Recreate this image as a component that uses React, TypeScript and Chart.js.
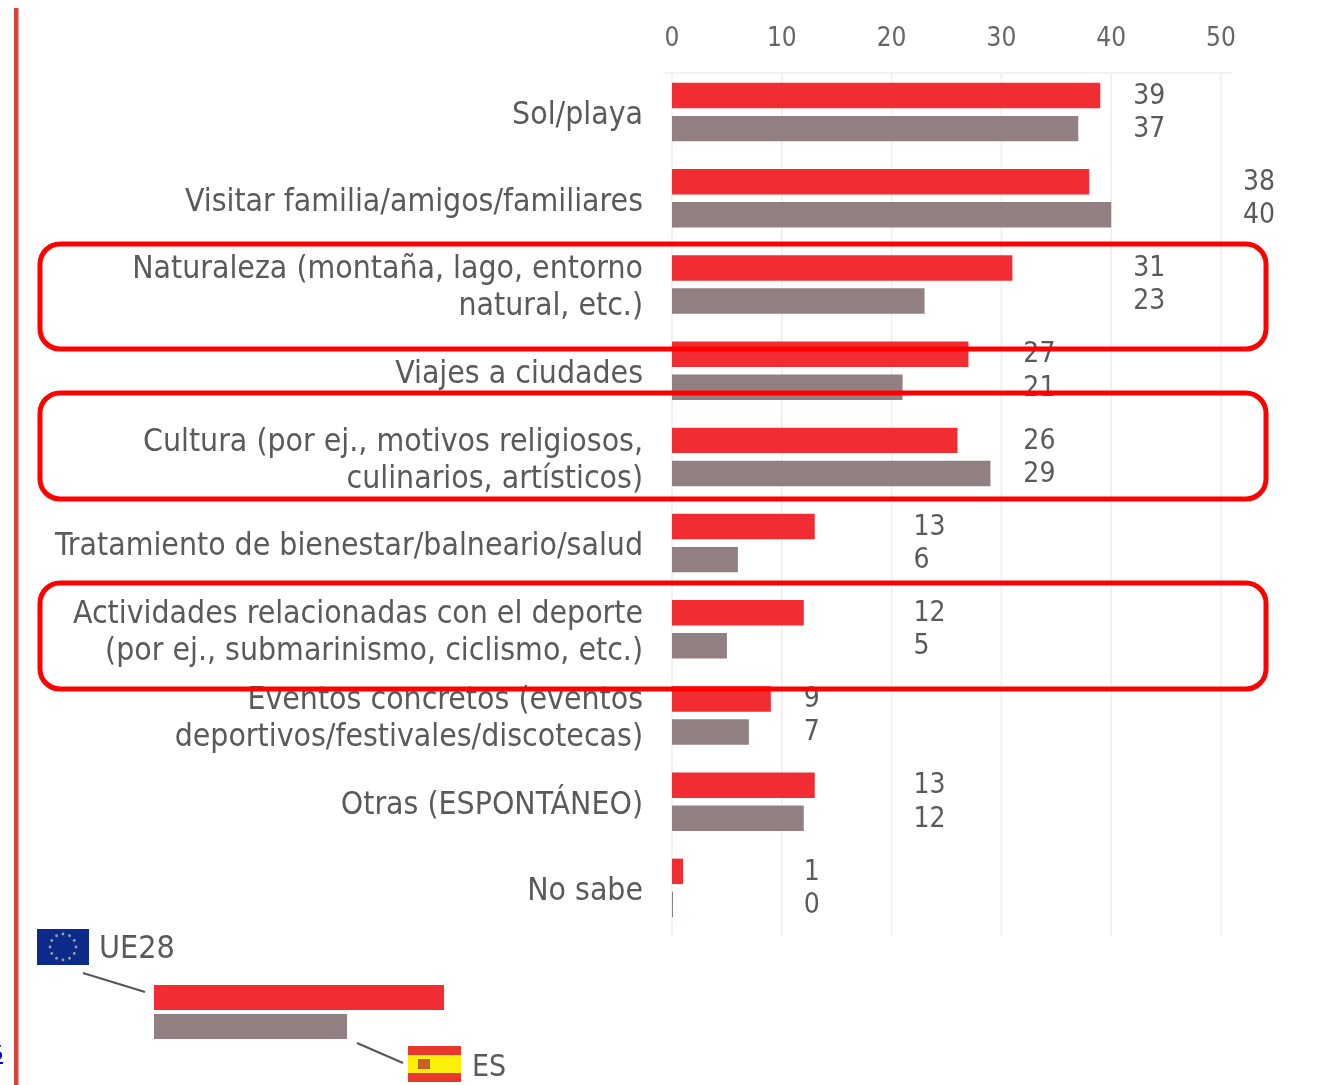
import React, { useEffect, useRef } from "react";
import { Chart, registerables } from "chart.js";

Chart.register(...registerables);

const categories: (string | string[])[] = [
  "Sol/playa",
  "Visitar familia/amigos/familiares",
  ["Naturaleza (montaña, lago, entorno", "natural, etc.)"],
  "Viajes a ciudades",
  ["Cultura (por ej., motivos religiosos,", "culinarios, artísticos)"],
  "Tratamiento de bienestar/balneario/salud",
  ["Actividades relacionadas con el deporte", "(por ej., submarinismo, ciclismo, etc.)"],
  ["Eventos concretos (eventos", "deportivos/festivales/discotecas)"],
  "Otras (ESPONTÁNEO)",
  "No sabe",
];
const ue28 = [39, 38, 31, 27, 26, 13, 12, 9, 13, 1];
const es = [37, 40, 23, 21, 29, 6, 5, 7, 12, 0];
const xTicks = [0, 10, 20, 30, 40, 50];

const FONT = '"DejaVu Sans Condensed", "DejaVu Sans", sans-serif';
const TEXT = "#5a5a5a";
const RED = "#f22c33";
const GRAY = "#917f81";

function roundRect(c: CanvasRenderingContext2D, x: number, y: number, w: number, h: number, r: number) {
  c.beginPath();
  c.roundRect(x, y, w, h, r);
  c.stroke();
}

const gridPlugin = {
  id: "customGrid",
  beforeDatasetsDraw(chart: any) {
    const c = chart.ctx as CanvasRenderingContext2D;
    const x = chart.scales.x;
    c.save();
    c.strokeStyle = "#eeeeee";
    c.lineWidth = 1.5;
    xTicks.forEach((t) => {
      const px = x.getPixelForValue(t);
      c.beginPath();
      c.moveTo(px, 73);
      c.lineTo(px, 936);
      c.stroke();
    });
    c.beginPath();
    c.moveTo(663, 73);
    c.lineTo(1232, 73);
    c.stroke();
    c.restore();
  },
};

const overlayPlugin = {
  id: "overlay",
  afterDatasetsDraw(chart: any) {
    const c = chart.ctx as CanvasRenderingContext2D;
    const x = chart.scales.x;
    c.save();
    // value labels
    c.font = `28px ${FONT}`;
    c.fillStyle = TEXT;
    c.textAlign = "left";
    c.textBaseline = "middle";
    [ue28, es].forEach((vals, d) => {
      const meta = chart.getDatasetMeta(d);
      vals.forEach((v, i) => {
        const slot = (Math.floor(Math.max(ue28[i], es[i]) / 10) + 1) * 10 + 2;
        c.fillText(String(v), x.getPixelForValue(slot), meta.data[i].y + 1);
      });
    });

    // left rule
    c.fillStyle = "#d9423c";
    c.fillRect(14, 8, 4.5, 1077);

    // clipped link fragment
    c.fillStyle = "#0000ee";
    c.font = "24px 'Liberation Serif', serif";
    c.textBaseline = "alphabetic";
    c.fillText("5", -9, 1060);
    c.fillRect(0, 1062, 3, 2);

    // highlight boxes
    c.strokeStyle = "#ff0000";
    c.lineWidth = 5;
    roundRect(c, 40, 244, 1226, 105, 20);
    roundRect(c, 40, 393, 1226, 106, 20);
    roundRect(c, 40, 583, 1226, 106, 20);

    // legend: EU flag
    c.fillStyle = "#0c2a8a";
    c.fillRect(37, 929, 52, 36);
    c.fillStyle = "#9aa0a8";
    for (let k = 0; k < 12; k++) {
      const a = (k * Math.PI) / 6;
      c.beginPath();
      c.arc(63 + 13 * Math.cos(a), 947 + 13 * Math.sin(a), 1.4, 0, Math.PI * 2);
      c.fill();
    }
    c.fillStyle = TEXT;
    c.font = `32px ${FONT}`;
    c.textAlign = "left";
    c.textBaseline = "middle";
    c.fillText("UE28", 99, 950);
    c.font = `30px ${FONT}`;
    c.fillText("ES", 472, 1068);

    c.strokeStyle = "#555555";
    c.lineWidth = 2;
    c.beginPath();
    c.moveTo(83, 973);
    c.lineTo(145, 992);
    c.moveTo(357, 1043);
    c.lineTo(403, 1063);
    c.stroke();

    c.fillStyle = RED;
    c.fillRect(154, 985, 290, 25);
    c.fillStyle = GRAY;
    c.fillRect(154, 1014, 193, 25);

    // legend: ES flag
    c.fillStyle = "#e8382b";
    c.fillRect(408, 1046, 53, 36);
    c.fillStyle = "#fbf00a";
    c.fillRect(408, 1055, 53, 18);
    c.fillStyle = "#c8602a";
    c.fillRect(418, 1059, 12, 10);
    c.restore();
  },
};

export default function App() {
  const ref = useRef<HTMLCanvasElement>(null);
  useEffect(() => {
    const chart = new Chart(ref.current!, {
      type: "bar",
      data: {
        labels: categories as any,
        datasets: [
          { label: "UE28", data: ue28, backgroundColor: RED, categoryPercentage: 0.767, barPercentage: 0.77 },
          { label: "ES", data: es, backgroundColor: GRAY, categoryPercentage: 0.767, barPercentage: 0.77, minBarLength: 1 },
        ],
      },
      options: {
        indexAxis: "y",
        animation: false,
        responsive: false,
        layout: { padding: { left: 0, top: 0, right: 97, bottom: 154 } },
        plugins: { legend: { display: false }, tooltip: { enabled: false } },
        scales: {
          x: {
            position: "top",
            min: 0,
            max: 50,
            afterFit: (s: any) => { s.height = 69; },
            afterBuildTicks: (s: any) => { s.ticks = xTicks.map((value) => ({ value })); },
            grid: { display: false },
            border: { display: false },
            ticks: { color: "#666666", font: { family: FONT, size: 26 }, padding: 6, maxRotation: 0 },
          },
          y: {
            afterFit: (s: any) => { s.width = 672; },
            grid: { display: false },
            border: { display: false },
            ticks: {
              color: TEXT,
              font: { family: FONT, size: 31.7, lineHeight: 1.17 },
              padding: 21,
              labelOffset: 4,
              autoSkip: false,
            },
          },
        },
      },
      plugins: [gridPlugin, overlayPlugin],
    } as any);
    return () => chart.destroy();
  }, []);
  return (
    <canvas
      ref={ref}
      width={1318}
      height={1085}
      style={{ position: "absolute", left: 0, top: 0, width: 1318, height: 1085 }}
    />
  );
}
